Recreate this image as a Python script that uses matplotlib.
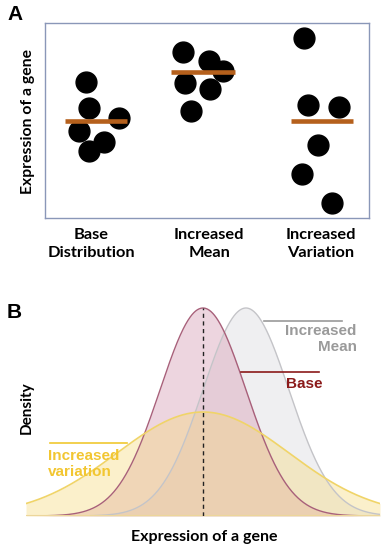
import numpy as np
import matplotlib
matplotlib.use("Agg")
import matplotlib.pyplot as plt

# Panel A data: expression values per group (arbitrary units)
groups = ['Base\nDistribution', 'Increased\nMean', 'Increased\nVariation']
group_pos = [0.0, 1.03, 2.0]
base_x = [-0.04, -0.02, 0.24, -0.10, 0.11, -0.02]
base_y = [69.7, 56.4, 51.3, 44.6, 39.0, 34.4]
mean_x = [0.80, 1.03, 1.15, 0.82, 1.04, 0.87]
mean_y = [85.1, 80.5, 75.4, 69.2, 66.2, 54.9]
var_x = [1.85, 1.89, 2.16, 1.98, 1.84, 2.10]
var_y = [92.3, 57.9, 56.9, 37.4, 22.6, 7.7]
group_means = [49.7, 74.9, 49.7]
mean_spans = [(-0.23, 0.31), (0.70, 1.25), (1.74, 2.28)]

# Panel B data: normal curves (mean, sd)
base_mu, base_sd = 0.0, 1.0
shift_mu, shift_sd = 1.0, 1.0
wide_mu, wide_sd = 0.0, 2.0

label_font = 'Lato'
ann_font = 'Liberation Sans'

fig = plt.figure(figsize=(3.86, 5.5), dpi=100)

# ---- Panel A ----
ax = fig.add_axes([45/386, 1-218/550, 324/386, 195/550])
ax.scatter(base_x, base_y, s=225, color='black', zorder=2)
ax.scatter(mean_x, mean_y, s=225, color='black', zorder=2)
ax.scatter(var_x, var_y, s=225, color='black', zorder=2)
for m, (x0, x1) in zip(group_means, mean_spans):
    ax.plot([x0, x1], [m, m], color='#b5601c', lw=3.3, solid_capstyle='butt', zorder=3)
ax.set_xlim(-0.4, 2.42)
ax.set_ylim(0, 100)
ax.set_xticks(group_pos)
ax.set_xticklabels(groups, fontsize=11.8, fontweight='bold', family=label_font, linespacing=1.4)
ax.tick_params(axis='x', length=0, pad=7)
ax.set_yticks([])
for s in ax.spines.values():
    s.set_color('#8a97b8')
    s.set_linewidth(1.0)
fig.text(28/386, 1-122/550, 'Expression of a gene', rotation=90, ha='center', va='center',
         fontsize=11.3, fontweight='bold', family=label_font)
fig.text(15/386, 1-14/550, 'A', ha='center', va='center', fontsize=15,
         fontweight='bold', family=ann_font)

# ---- Panel B ----
bx = fig.add_axes([26/386, 1-516/550, 354/386, 216/550])
x = np.linspace(-4.12, 4.12, 600)

def pdf(x, mu, sd):
    return np.exp(-0.5*((x-mu)/sd)**2) / (sd*np.sqrt(2*np.pi))

y_shift = pdf(x, shift_mu, shift_sd)
y_base = pdf(x, base_mu, base_sd)
y_wide = pdf(x, wide_mu, wide_sd)

bx.fill_between(x, y_shift, color='#dcdce0', alpha=0.45, lw=0)
bx.plot(x, y_shift, color='#c4c4c8', lw=1.0)
bx.fill_between(x, y_base, color='#d9a3b8', alpha=0.45, lw=0)
bx.plot(x, y_base, color='#a8607a', lw=1.0)
bx.fill_between(x, y_wide, color='#f5d878', alpha=0.38, lw=0)
bx.plot(x, y_wide, color='#f0d468', lw=1.2)
bx.axhline(0, color='#ecd69a', lw=1.5)
bx.plot([base_mu, base_mu], [0, pdf(base_mu, base_mu, base_sd)], color='#222222',
        lw=1.0, ls=(0, (3, 2.5)))

bx.set_xlim(-4.12, 4.12)
bx.set_ylim(0, 0.4143)
bx.axis('off')

# annotations
bx.plot([1.42, 3.23], [0.374, 0.374], color='#9a9a9a', lw=1.2)
bx.text(3.58, 0.3395, 'Increased\nMean', ha='right', va='center', color='#9a9a9a',
        fontsize=11, fontweight='bold', family=ann_font, linespacing=1.1)
bx.plot([0.88, 2.70], [0.276, 0.276], color='#8b1a1a', lw=1.2)
bx.text(2.35, 0.253, 'Base', ha='center', va='center', color='#8b1a1a',
        fontsize=11, fontweight='bold', family=ann_font)
bx.plot([-3.56, -1.77], [0.140, 0.140], color='#f0c830', lw=1.2)
bx.text(-3.60, 0.0997, 'Increased\nvariation', ha='left', va='center', color='#f2c631',
        fontsize=11, fontweight='bold', family=ann_font, linespacing=1.1)

fig.text(27/386, 1-408/550, 'Density', rotation=90, ha='center', va='center',
         fontsize=11, fontweight='bold', family=label_font)
fig.text(204/386, 1-537/550, 'Expression of a gene', ha='center', va='center',
         fontsize=11.5, fontweight='bold', family=label_font)
fig.text(14/386, 1-312/550, 'B', ha='center', va='center', fontsize=15,
         fontweight='bold', family=ann_font)

fig.savefig('out.png', dpi=100)
